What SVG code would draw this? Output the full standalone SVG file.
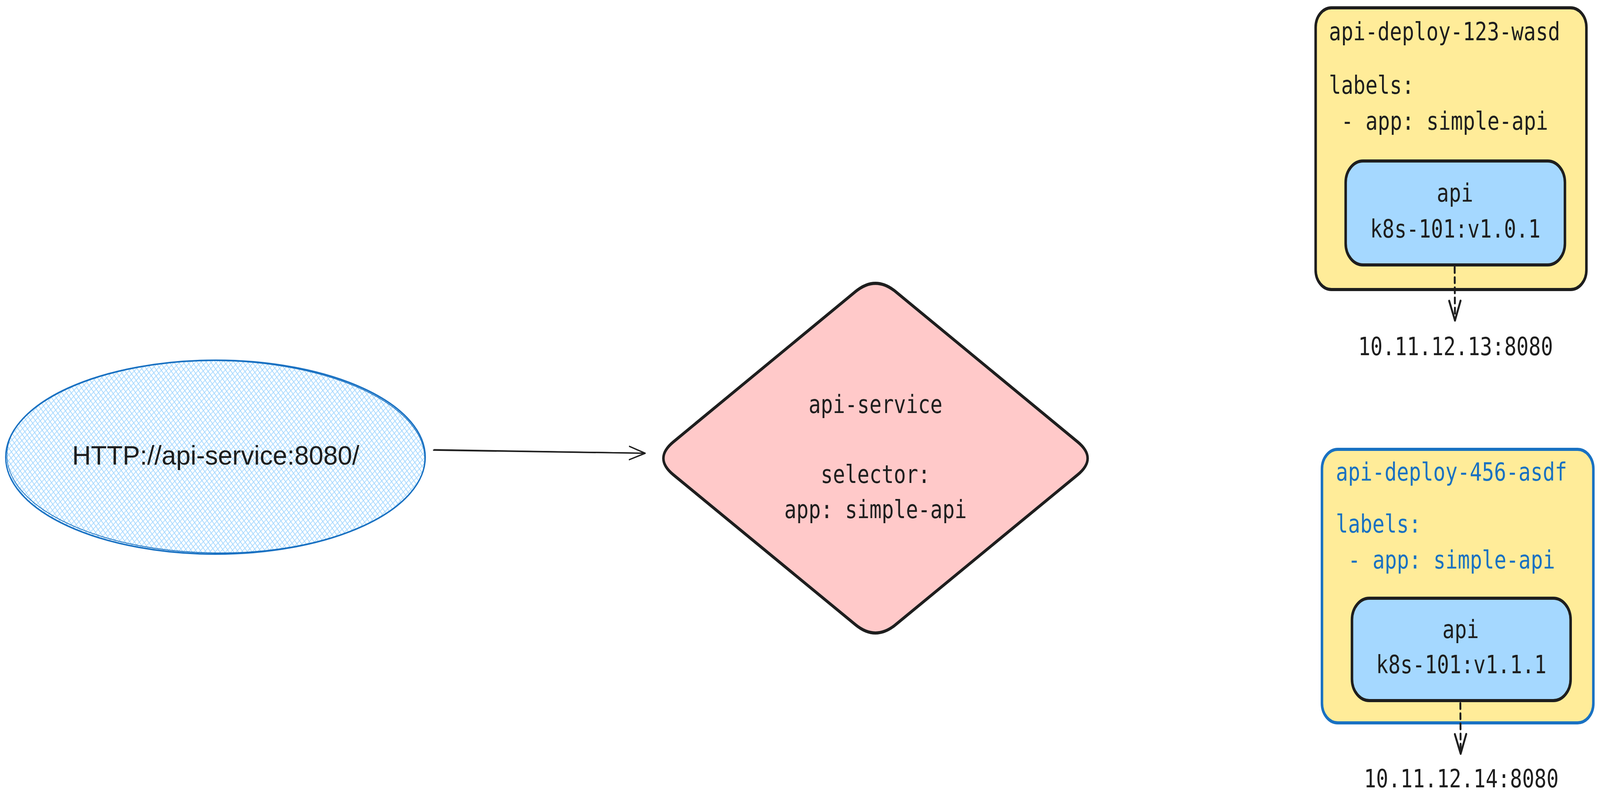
<svg xmlns="http://www.w3.org/2000/svg" width="5064" height="2073" viewBox="0 0 5064 2073" preserveAspectRatio="none">
  <defs>
    <pattern id="hatch" patternUnits="userSpaceOnUse" width="11" height="11" patternTransform="rotate(-41)">
      <path d="M0,5.5 H11 M5.5,0 V11" stroke="#a5d8ff" stroke-width="2.2" fill="none"/>
    </pattern>
    <marker id="headThin" markerUnits="userSpaceOnUse" viewBox="-60 -30 70 60" markerWidth="70" markerHeight="60" refX="0" refY="0" orient="auto">
      <path d="M-50,-17 L0,0 L-50,17" fill="none" stroke="#1e1e1e" stroke-width="3.5" stroke-linecap="round" stroke-linejoin="round" stroke-dasharray="none"/>
    </marker>
    <marker id="headBold" markerUnits="userSpaceOnUse" viewBox="-60 -30 70 60" markerWidth="70" markerHeight="60" refX="0" refY="0" orient="auto">
      <path d="M-50,-18 L0,0 L-50,18" fill="none" stroke="#1e1e1e" stroke-width="6" stroke-linecap="round" stroke-linejoin="round" stroke-dasharray="none"/>
    </marker>
  </defs>
  <style>
    @media (max-width: 5000px) { svg { width: 100vw; height: 100vh; } }
    .mono { font-family: "DejaVu Sans Mono", "Liberation Mono", monospace; font-size: 64px; fill: #1e1e1e; }
    .blue { fill: #1971c2; }
    .mid { text-anchor: middle; }
    .hand { font-family: "Liberation Sans", Arial, sans-serif; font-size: 68px; fill: #1e1e1e; }
    .deploy { fill: #ffec99; stroke-width: 8; }
    .pod { fill: #a5d8ff; stroke: #1e1e1e; stroke-width: 8; }
    .conn { fill: none; stroke: #1e1e1e; stroke-linecap: round; }
  </style>

  <g id="client">
    <ellipse cx="682" cy="1170" rx="664" ry="248" fill="url(#hatch)" stroke="#1971c2" stroke-width="4"/>
    <ellipse cx="683" cy="1169" rx="661" ry="246" fill="none" stroke="#1971c2" stroke-width="2" transform="rotate(0.4 683 1169)"/>
    <text class="hand mid" x="683" y="1189" textLength="909" lengthAdjust="spacingAndGlyphs">HTTP://api-service:8080/</text>
  </g>

  <g id="api-service">
    <path d="M2131.3,1130.8 L2707.7,746.2 Q2771,704 2834.3,746.2 L3410.7,1130.8 Q3474,1173 3410.7,1215.1 L2834.3,1598.9 Q2771,1641 2707.7,1598.9 L2131.3,1215.1 Q2068,1173 2131.3,1130.8 Z" fill="#ffc9c9" stroke="#1e1e1e" stroke-width="8" stroke-linejoin="round"/>
    <text class="mono mid" x="2771" y="1057">api-service</text>
    <text class="mono mid" x="2771" y="1236">selector:</text>
    <text class="mono mid" x="2771" y="1326">app: simple-api</text>
  </g>

  <g id="deploy-123">
    <rect class="deploy" x="4164" y="20" width="857" height="721" rx="50" ry="50" stroke="#1e1e1e"/>
    <text class="mono" x="4206" y="103">api-deploy-123-wasd</text>
    <text class="mono" x="4206" y="240">labels:</text>
    <text class="mono" x="4245" y="332">- app: simple-api</text>
  </g>
  <g id="pod-123">
    <rect class="pod" x="4259" y="412" width="694" height="266" rx="55" ry="55"/>
    <text class="mono mid" x="4605" y="516">api</text>
    <text class="mono mid" x="4606" y="608">k8s-101:v1.0.1</text>
  </g>
  <g id="ip-13">
    <text class="mono mid" x="4607" y="909">10.11.12.13:8080</text>
  </g>

  <g id="deploy-456">
    <rect class="deploy" x="4184" y="1150" width="859" height="700" rx="50" ry="50" stroke="#1971c2"/>
    <text class="mono blue" x="4228" y="1230">api-deploy-456-asdf</text>
    <text class="mono blue" x="4228" y="1363">labels:</text>
    <text class="mono blue" x="4267" y="1455">- app: simple-api</text>
  </g>
  <g id="pod-456">
    <rect class="pod" x="4279" y="1531" width="692" height="262" rx="55" ry="55"/>
    <text class="mono mid" x="4623" y="1633">api</text>
    <text class="mono mid" x="4625" y="1723">k8s-101:v1.1.1</text>
  </g>
  <g id="ip-14">
    <text class="mono mid" x="4625" y="2015">10.11.12.14:8080</text>
  </g>

  <g id="connectors">
    <path class="conn" d="M1372,1152 L2042,1160" stroke-width="3.5" marker-end="url(#headThin)"/>
    <path class="conn" d="M1374,1150 L2030,1159" stroke-width="1.5"/>
    <path class="conn" d="M4604,684 L4605,820" stroke-width="6" stroke-dasharray="14 12" stroke-linecap="butt" marker-end="url(#headBold)"/>
    <path class="conn" d="M4622,1800 L4623,1929" stroke-width="6" stroke-dasharray="14 12" stroke-linecap="butt" marker-end="url(#headBold)"/>
  </g>
</svg>
